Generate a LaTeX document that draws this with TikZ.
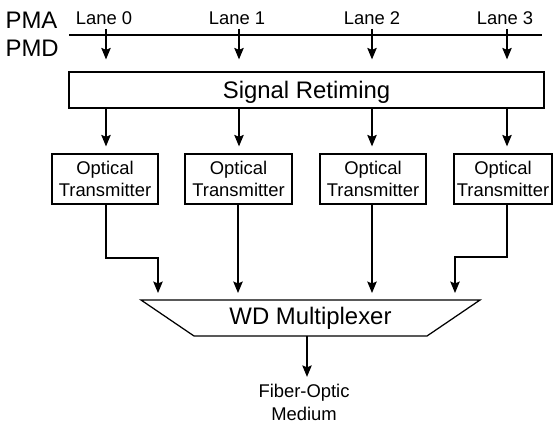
\documentclass[tikz,border=0pt]{standalone}
\usepackage{fontspec}
\setmainfont{Liberation Sans}
\usetikzlibrary{arrows.meta,calc}
\begin{document}
\begin{tikzpicture}[x=1pt,y=-1pt,
  line width=1.25pt,
  big/.style={font=\fontsize{23.9}{28}\selectfont},
  small/.style={font=\fontsize{18.4}{22.5}\selectfont},
  box/.style={draw, inner sep=0pt},
  arr/.style={-{Stealth[length=11.5pt,width=9.5pt,inset=2pt]}},
  lbl/.style={inner sep=0pt, anchor=base}]
\useasboundingbox (0,0) rectangle (553,425);
% layer labels
\node[big, lbl, anchor=base west] (pma) at (5,28.3) {PMA};
\node[big, lbl, anchor=base west] (pmd) at (5,57) {PMD};
\coordinate (ls) at (69,35);
\coordinate (le) at (542,35);
\draw (ls) -- (le);
% lanes
\node[small, lbl] (lab0) at (104,24.5) {Lane 0};
\node[small, lbl] (lab1) at (237,24.5) {Lane 1};
\node[small, lbl] (lab2) at (372,24.5) {Lane 2};
\node[small, lbl] (lab3) at (505,24.5) {Lane 3};
\coordinate (a0) at (106,29);
\coordinate (a1) at (239,29);
\coordinate (a2) at (372,29);
\coordinate (a3) at (507,29);
% signal retiming
\node[box, big, minimum width=475pt, minimum height=36pt, text depth=0pt, text height=17pt] (sr) at (306.5,90) {Signal Retiming};
% optical transmitters
\node[box, small, align=center, minimum width=106pt, minimum height=50pt] (ot0) at (105,179) {Optical\\Transmitter};
\node[box, small, align=center, minimum width=107pt, minimum height=50pt] (ot1) at (238.5,179) {Optical\\Transmitter};
\node[box, small, align=center, minimum width=106pt, minimum height=50pt] (ot2) at (373,179) {Optical\\Transmitter};
\node[box, small, align=center, minimum width=98pt, minimum height=50pt] (ot3) at (503,179) {Optical\\Transmitter};
\foreach \i in {0,1,2,3}{
  \draw[arr, shorten >=12pt] (a\i) -- (a\i |- sr.north);
  \draw[arr, shorten >=7pt] (a\i |- sr.south) -- (a\i |- ot\i.north);
}
% multiplexer
\coordinate (m0) at (158,300);
\coordinate (m1) at (238,300);
\coordinate (m2) at (372,300);
\coordinate (m3) at (455,300);
\draw (141,300) -- (480,300) -- (427,336) -- (194,336) -- cycle;
\node[big, lbl] (mux) at (310.5,324) {WD Multiplexer};
\draw[arr, shorten >=7pt] (a0 |- ot0.south) |- ($(m0)+(0,-42)$) -- (m0);
\draw[arr, shorten >=7pt] (m1 |- ot1.south) -- (m1);
\draw[arr, shorten >=7pt] (m2 |- ot2.south) -- (m2);
\draw[arr, shorten >=7pt] (a3 |- ot3.south) |- ($(m3)+(0,-43)$) -- (m3);
% output
\coordinate (mb) at (307,336);
\node[small, align=center, inner sep=0pt] (fom) at (304,402.5) {Fiber-Optic\\Medium};
\draw[arr, shorten >=7pt] (mb) -- (mb |- fom.north);
\end{tikzpicture}
\end{document}
